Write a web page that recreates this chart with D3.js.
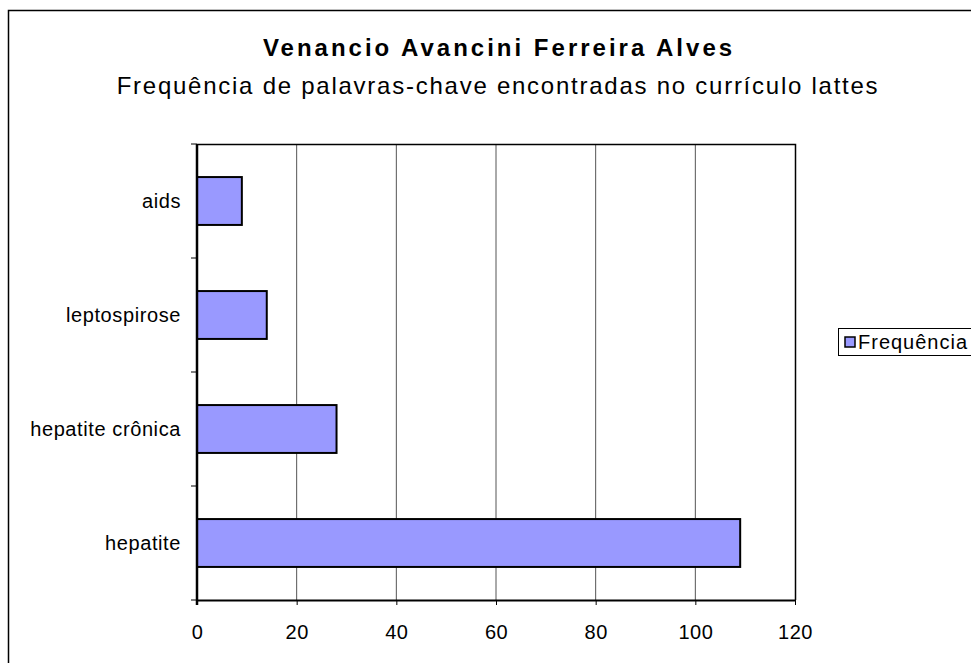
<!DOCTYPE html>
<html>
<head>
<meta charset="utf-8">
<script src="https://cdn.jsdelivr.net/npm/d3@7"></script>
<style>
  body { margin: 0; background: #fff; }
  text { font-family: "Liberation Sans", Arial, sans-serif; }
</style>
</head>
<body>
<svg id="chart" width="971" height="663"></svg>
<script>
// chart data
const categories = ["hepatite", "hepatite crônica", "leptospirose", "aids"];
const values = [109, 28, 14, 9];
const xTicks = [0, 20, 40, 60, 80, 100, 120];
const seriesName = "Frequência";
const title = "Venancio Avancini Ferreira Alves";
const subtitle = "Frequência de palavras-chave encontradas no currículo lattes";

const svg = d3.select("#chart");

// outer frame (runs off the right and bottom edges)
svg.append("rect")
    .attr("x", 8.5).attr("y", 10.5)
    .attr("width", 1000).attr("height", 700)
    .attr("fill", "#fff")
    .attr("stroke", "#000")
    .attr("stroke-width", 1.5);

svg.append("text")
    .attr("x", 499).attr("y", 56)
    .attr("text-anchor", "middle")
    .attr("font-size", 24)
    .attr("font-weight", "bold")
    .attr("letter-spacing", 3)
    .text(title);

svg.append("text")
    .attr("x", 498).attr("y", 94)
    .attr("text-anchor", "middle")
    .attr("font-size", 24)
    .attr("letter-spacing", 1.75)
    .text(subtitle);

const plotL = 197, plotR = 795, plotT = 144, plotB = 600;

const x = d3.scaleLinear().domain([0, 120]).range([plotL, plotR]);
const y = d3.scaleBand()
    .domain(categories.slice().reverse())
    .range([plotT, plotB])
    .paddingInner(0.58)
    .paddingOuter(0.29);

// grid lines
svg.append("g")
    .selectAll("line")
    .data(xTicks.filter(d => d > 0 && d < 120))
    .join("line")
    .attr("x1", d => x(d)).attr("x2", d => x(d))
    .attr("y1", plotT).attr("y2", plotB)
    .attr("stroke", "#555")
    .attr("stroke-width", 1);

// plot frame top / right
svg.append("path")
    .attr("d", `M${plotL},${plotT + 0.5}H${plotR + 0.5}V${plotB}`)
    .attr("fill", "none")
    .attr("stroke", "#000")
    .attr("stroke-width", 1.5);

// bars
svg.append("g")
    .selectAll("rect")
    .data(categories.map((c, i) => ({ c: c, v: values[i] })))
    .join("rect")
    .attr("x", x(0))
    .attr("y", d => y(d.c))
    .attr("width", d => x(d.v) - x(0))
    .attr("height", y.bandwidth())
    .attr("fill", "#9999ff")
    .attr("stroke", "#000")
    .attr("stroke-width", 2);

// x axis
const xAxis = svg.append("g")
    .attr("transform", `translate(0,${plotB})`)
    .call(d3.axisBottom(x).tickValues(xTicks).tickSize(5).tickSizeOuter(0).tickPadding(20));
xAxis.select(".domain").attr("stroke-width", 2);
xAxis.selectAll("text").attr("font-size", 20).attr("fill", "#000")
    .attr("letter-spacing", 0.5)
    .style("font-family", "'Liberation Sans', Arial, sans-serif");

// y axis: ticks at band boundaries
const yAxis = svg.append("g").attr("transform", `translate(${plotL},0)`);
yAxis.append("line")
    .attr("x1", 0).attr("x2", 0)
    .attr("y1", plotT).attr("y2", plotB + 5)
    .attr("stroke", "#000").attr("stroke-width", 2.5);
const step = (plotB - plotT) / categories.length;
yAxis.selectAll("line.tick")
    .data(d3.range(categories.length + 1))
    .join("line")
    .attr("class", "tick")
    .attr("x1", -6).attr("x2", 0)
    .attr("y1", i => plotT + i * step).attr("y2", i => plotT + i * step)
    .attr("stroke", "#000");
yAxis.selectAll("text")
    .data(categories)
    .join("text")
    .attr("x", -16)
    .attr("y", d => y(d) + y.bandwidth() / 2)
    .attr("dy", "0.35em")
    .attr("text-anchor", "end")
    .attr("font-size", 20)
    .attr("letter-spacing", 0.6)
    .text(d => d);

// legend
const lg = svg.append("g");
lg.append("rect")
    .attr("x", 838.5).attr("y", 328.5)
    .attr("width", 200).attr("height", 27)
    .attr("fill", "#fff").attr("stroke", "#000");
lg.append("rect")
    .attr("x", 845).attr("y", 337)
    .attr("width", 10).attr("height", 10)
    .attr("fill", "#9999ff").attr("stroke", "#000").attr("stroke-width", 1.5);
lg.append("text")
    .attr("x", 858).attr("y", 342)
    .attr("dy", "0.35em")
    .attr("font-size", 20)
    .attr("letter-spacing", 1)
    .text(seriesName);
</script>
</body>
</html>
